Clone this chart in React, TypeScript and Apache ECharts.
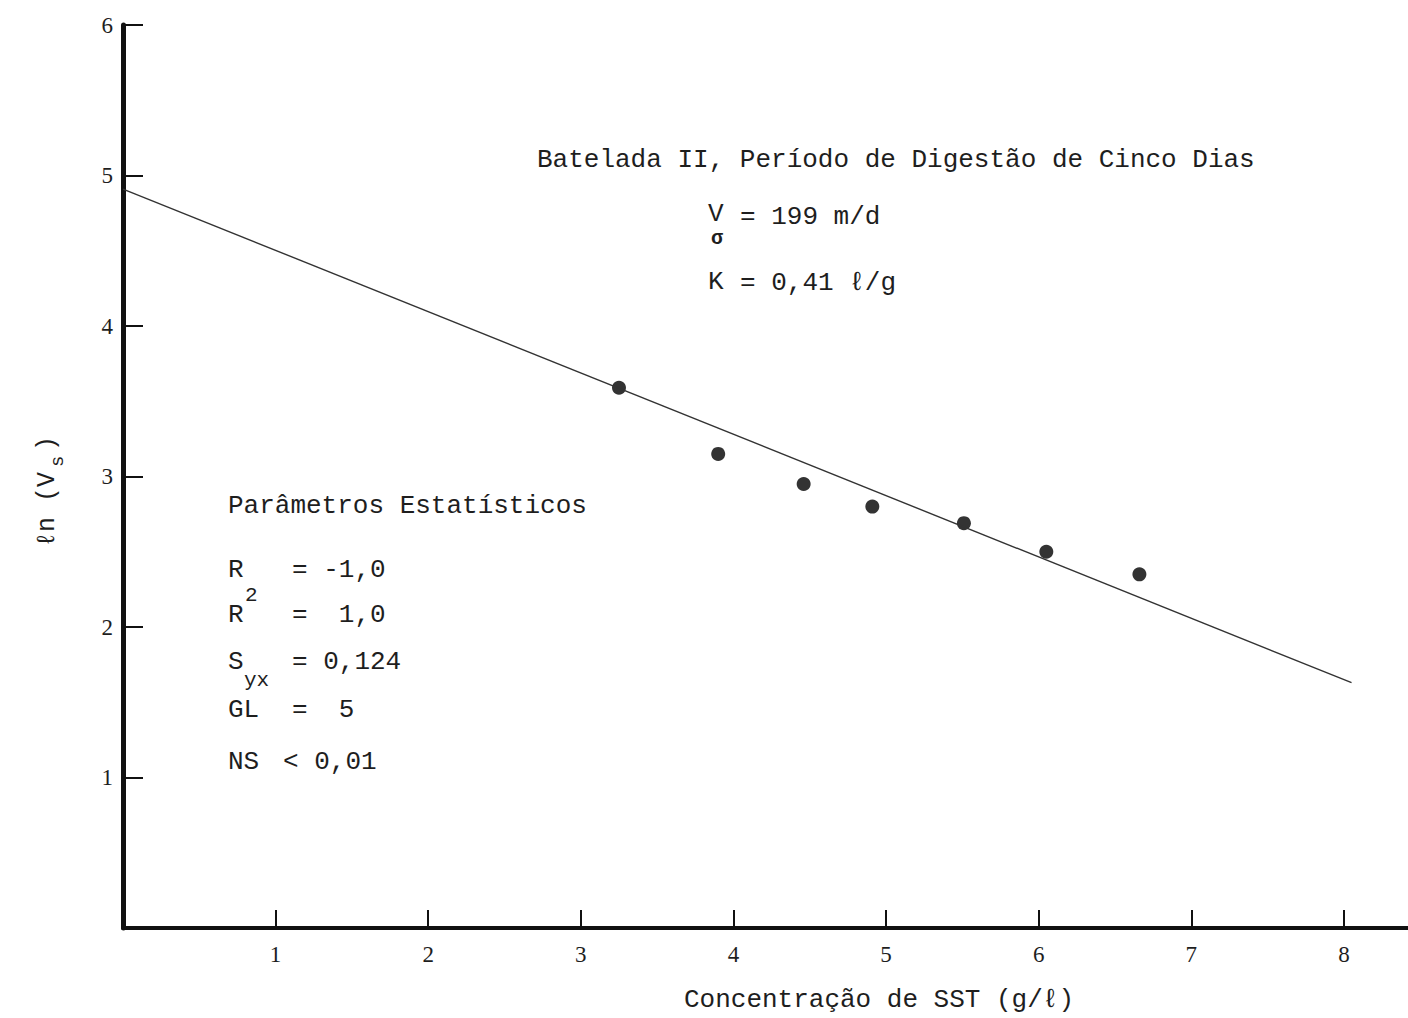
import React, { useEffect, useRef } from "react";
import * as echarts from "echarts";

const sstConcentration = [3.25, 3.9, 4.46, 4.91, 5.51, 6.05, 6.66];
const lnVs = [3.59, 3.15, 2.95, 2.8, 2.69, 2.5, 2.35];
const fitLineX = [0, 8.05];
const fitLineY = [4.91, 1.63];
const xTicks = [1, 2, 3, 4, 5, 6, 7, 8];
const yTicks = [1, 2, 3, 4, 5, 6];

const MONO = "'Liberation Mono', 'DejaVu Sans Mono', monospace";
const SERIF = "'Liberation Serif', 'DejaVu Serif', serif";
const INK = "#1e1e1e";

function txt(text: string, x: number, y: number, fontSize = 26, extra: any = {}) {
  return {
    type: "text",
    x,
    y,
    style: {
      text,
      fontFamily: MONO,
      fontSize,
      fill: INK,
      textAlign: "left",
      textVerticalAlign: "middle",
      verticalAlign: "middle",
      ...extra,
    },
  };
}

export default function App() {
  const ref = useRef<HTMLDivElement>(null);
  useEffect(() => {
    if (!ref.current) return;
    const chart = echarts.init(ref.current, undefined, { renderer: "svg" });
    const points = sstConcentration.map((x, i) => [x, lnVs[i]]);
    const fit = fitLineX.map((x, i) => [x, fitLineY[i]]);
    chart.setOption({
      animation: false,
      backgroundColor: "#ffffff",
      grid: { left: 123, right: 0, top: 25, bottom: 90, containLabel: false },
      xAxis: {
        type: "value",
        min: 0,
        max: 8.42,
        splitLine: { show: false },
        axisLine: { show: true, onZero: false, lineStyle: { color: "#111", width: 4 } },
        axisTick: {
          show: true,
          inside: true,
          length: 18,
          customValues: xTicks,
          lineStyle: { color: "#111", width: 2 },
        },
        axisLabel: {
          customValues: xTicks,
          margin: 15,
          fontFamily: SERIF,
          fontSize: 23,
          color: INK,
        },
      },
      yAxis: {
        type: "value",
        min: 0,
        max: 6,
        splitLine: { show: false },
        axisLine: { show: true, onZero: false, lineStyle: { color: "#111", width: 5 } },
        axisTick: {
          show: true,
          inside: true,
          length: 20,
          customValues: yTicks,
          lineStyle: { color: "#111", width: 2 },
        },
        axisLabel: {
          customValues: yTicks,
          margin: 10,
          fontFamily: SERIF,
          fontSize: 23,
          color: INK,
        },
      },
      series: [
        {
          type: "line",
          data: fit,
          symbol: "none",
          lineStyle: { color: "#333", width: 1.4 },
          silent: true,
        },
        {
          type: "scatter",
          data: points,
          symbol: "circle",
          symbolSize: 14,
          itemStyle: { color: "#000" },
        },
      ],
      graphic: [
        // top annotation
        txt("Batelada II, Período de Digestão de Cinco Dias", 537, 160),
        txt("V", 708, 214),
        txt("σ", 711, 238, 20, { fontWeight: "bold" }),
        txt("= 199 m/d", 740, 217),
        txt("K", 708, 282),
        txt("= 0,41 ℓ/g", 740, 283),
        // statistics block
        txt("Parâmetros Estatísticos", 228, 506),
        txt("R", 228, 570),
        txt("= -1,0", 292, 570),
        txt("R", 228, 615),
        txt("2", 245, 595, 21),
        txt("=  1,0", 292, 615),
        txt("S", 228, 662),
        txt("yx", 244, 680, 21),
        txt("= 0,124", 292, 662),
        txt("GL", 228, 710),
        txt("=  5", 292, 710),
        txt("NS", 228, 762),
        txt("< 0,01", 283, 762),
        // x-axis title
        txt("Concentração de SST (g/ℓ)", 879, 1000, 26, { textAlign: "center" }),
        // y-axis title (rotated)
        {
          type: "group",
          x: 47,
          y: 547,
          rotation: Math.PI / 2,
          children: [
            txt("ℓn (V", 0, 0, 25),
            txt("s", 80, 11, 19),
            txt(")", 96, 0, 25),
          ],
        },
      ],
    });
    return () => chart.dispose();
  }, []);
  return (
    <div
      ref={ref}
      style={{ position: "absolute", left: 0, top: 0, width: 1408, height: 1018, background: "#fff" }}
    />
  );
}
